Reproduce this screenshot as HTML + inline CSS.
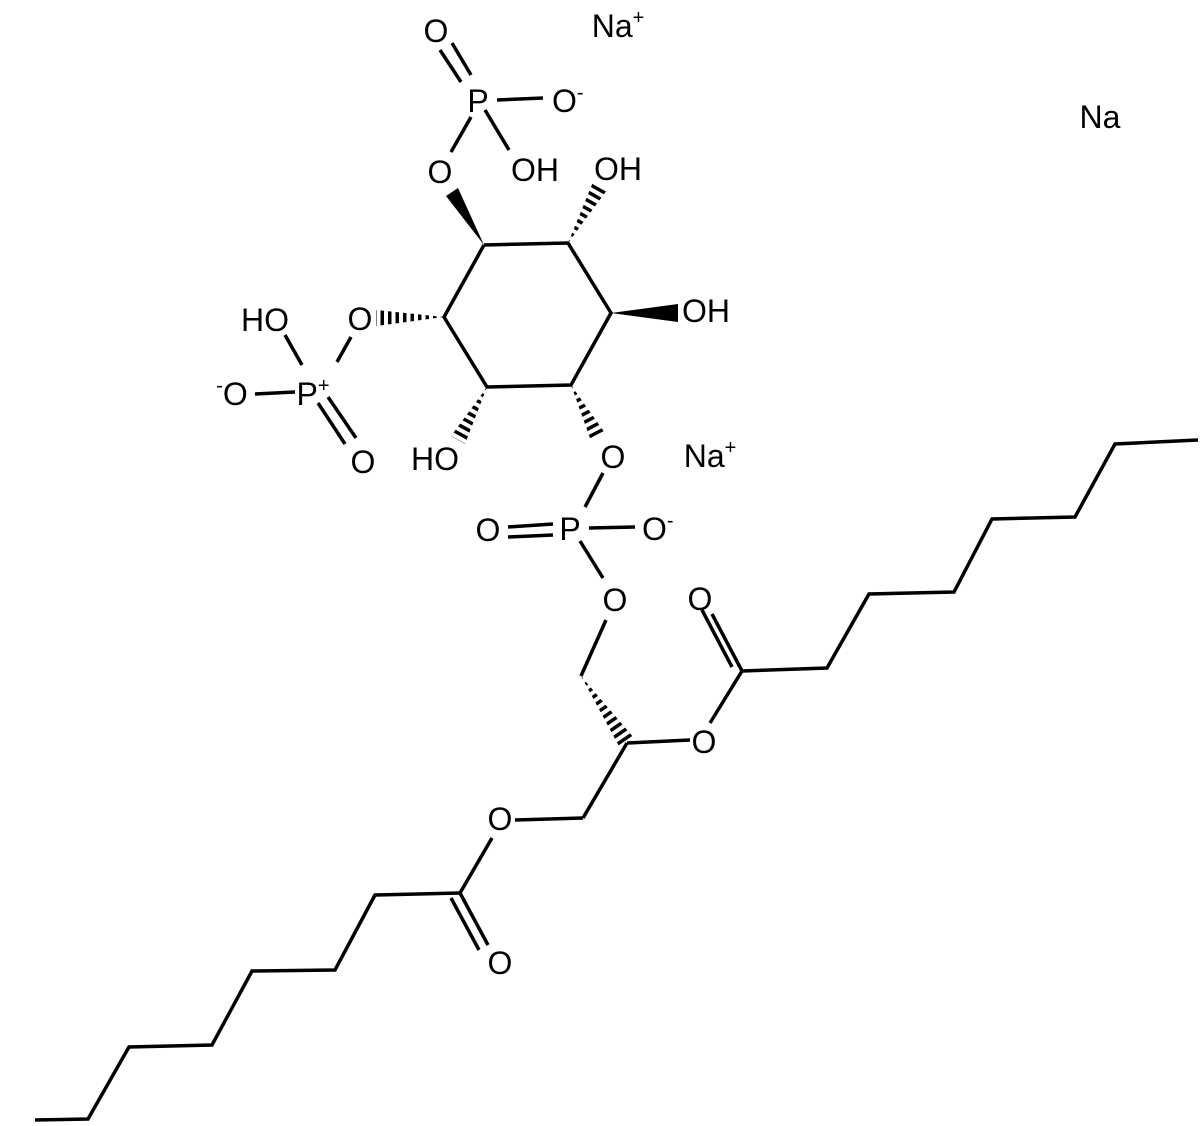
<!DOCTYPE html>
<html><head><meta charset="utf-8"><style>
html,body{margin:0;padding:0;background:#fff}
svg{display:block}
text{font-family:"Liberation Sans",Arial,sans-serif;font-size:32px;fill:#000}
.s{font-size:20px}
</style></head><body>
<svg width="1200" height="1126" viewBox="0 0 1200 1126" xmlns="http://www.w3.org/2000/svg">
<defs>
<clipPath id="h1"><polygon points="568,243 607,190 593,182"/></clipPath>
<clipPath id="h2"><polygon points="444,317 376,310 376,326"/></clipPath>
<clipPath id="h3"><polygon points="487,387 465,444 451,436"/></clipPath>
<clipPath id="h4"><polygon points="571,385 605,433 591,441"/></clipPath>
<clipPath id="h5"><polygon points="581,676 634,738 620,748"/></clipPath>
</defs>
<g stroke="#000" stroke-width="3.5" fill="none" stroke-linecap="butt">
<polyline points="484,245 568,243 611,313 571,385 487,387 444,317 484,245"/>
<line x1="451" y1="152" x2="471" y2="117"/>
<line x1="485" y1="110" x2="509" y2="150"/>
<line x1="497" y1="100" x2="543" y2="98"/>
<line x1="440" y1="50" x2="461" y2="82"/>
<line x1="452" y1="43" x2="471" y2="75"/>
<line x1="351" y1="337" x2="337" y2="362"/>
<line x1="285" y1="335" x2="302" y2="365"/>
<line x1="255" y1="394" x2="295" y2="392"/>
<line x1="318" y1="403" x2="345" y2="444"/>
<line x1="328" y1="397" x2="356" y2="438"/>
<line x1="603" y1="473" x2="585" y2="507"/>
<line x1="580" y1="541" x2="603" y2="578"/>
<line x1="589" y1="528" x2="635" y2="527"/>
<line x1="508" y1="527" x2="553" y2="524"/>
<line x1="508" y1="537" x2="553" y2="535"/>
<line x1="606" y1="620" x2="581" y2="676"/>
<line x1="627" y1="743" x2="690" y2="740"/>
<line x1="627" y1="743" x2="583" y2="818"/>
<line x1="583" y1="818" x2="515" y2="820"/>
<line x1="710" y1="723" x2="742" y2="671"/>
<line x1="742" y1="671" x2="712" y2="614"/>
<line x1="732" y1="667" x2="702" y2="610"/>
<polyline points="742,671 827,668 869,594 954,592 992,519 1075,517 1115,444 1198,440"/>
<line x1="492" y1="838" x2="460" y2="893"/>
<line x1="460" y1="893" x2="488" y2="945"/>
<line x1="451" y1="898" x2="479" y2="950"/>
<polyline points="460,893 375,895 335,970 252,971 212,1045 129,1047 88,1119 35,1120"/>
</g>
<g fill="#000">
<polygon points="484,245 458,188 446,196"/>
<polygon points="611,313 678,304 678,322"/>
</g>
<g stroke="#000" stroke-width="18" stroke-dasharray="3.5 4" fill="none">
<line x1="568" y1="243" x2="600" y2="186" clip-path="url(#h1)"/>
<line x1="444" y1="318" x2="376" y2="318" clip-path="url(#h2)"/>
<line x1="487" y1="387" x2="458" y2="440" clip-path="url(#h3)"/>
<line x1="571" y1="385" x2="598" y2="437" clip-path="url(#h4)"/>
<line x1="581" y1="676" x2="627" y2="743" clip-path="url(#h5)"/>
</g>
<text x="618" y="37" text-anchor="middle">Na<tspan class="s" dy="-13">+</tspan></text>
<text x="1100" y="128" text-anchor="middle">Na</text>
<text x="710" y="467" text-anchor="middle">Na<tspan class="s" dy="-13">+</tspan></text>
<text x="436" y="42" text-anchor="middle">O</text>
<text x="478" y="112" text-anchor="middle">P</text>
<text x="552" y="112">O<tspan class="s" dy="-13">-</tspan></text>
<text x="535" y="181" text-anchor="middle">OH</text>
<text x="440" y="183" text-anchor="middle">O</text>
<text x="618" y="180" text-anchor="middle">OH</text>
<text x="706" y="322" text-anchor="middle">OH</text>
<text x="265" y="331" text-anchor="middle">HO</text>
<text x="360" y="330" text-anchor="middle">O</text>
<text x="313" y="405" text-anchor="middle">P<tspan class="s" dy="-13">+</tspan></text>
<text x="232" y="405" text-anchor="middle"><tspan class="s" dy="-13">-</tspan><tspan dy="13">O</tspan></text>
<text x="363" y="473" text-anchor="middle">O</text>
<text x="435" y="470" text-anchor="middle">HO</text>
<text x="613" y="468" text-anchor="middle">O</text>
<text x="488" y="541" text-anchor="middle">O</text>
<text x="570" y="540" text-anchor="middle">P</text>
<text x="642" y="540">O<tspan class="s" dy="-13">-</tspan></text>
<text x="615" y="611" text-anchor="middle">O</text>
<text x="700" y="610" text-anchor="middle">O</text>
<text x="704" y="753" text-anchor="middle">O</text>
<text x="500" y="830" text-anchor="middle">O</text>
<text x="500" y="974" text-anchor="middle">O</text>
</svg>
</body></html>
